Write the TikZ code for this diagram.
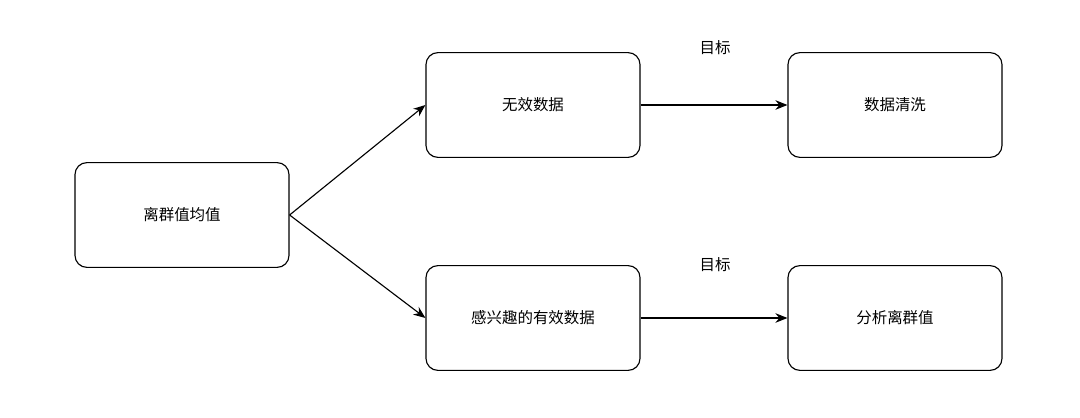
\documentclass[tikz,border=0pt]{standalone}
\usepackage{fontspec}
\setmainfont{Noto Sans CJK SC}
\usetikzlibrary{positioning,arrows.meta}
\tikzset{
    box/.style={rectangle, rounded corners=3mm, draw=black, thick, fill=white,
                minimum width=5.35cm, minimum height=2.62cm, font=\fontsize{11}{13}\selectfont},
    flow/.style={-{Stealth[length=3mm,width=2.4mm]}, thick},
    tag/.style={font=\fontsize{11}{13}\selectfont}
}
\begin{document}
\begin{tikzpicture}[x=0.025cm, y=-0.025cm]
  \useasboundingbox (0,0) rectangle (1080,418);
  % Boxes
  \node[box] (mean) at (182,215) {离群值均值};
  \node[box] (invalid) at (533,105) {无效数据};
  \node[box] (clean) at (895,105) {数据清洗};
  \node[box] (useful) at (533,318) {感兴趣的有效数据};
  \node[box] (analyse) at (895,318) {分析离群值};

  % Arrows
  \draw[flow] (mean.east) -- (invalid.west);
  \draw[flow] (mean.east) -- (useful.west);
  \draw[flow] (invalid) -- (clean);
  \draw[flow] (useful) -- (analyse);

  % Labels
  \node[tag] (goalA) at (715,48) {目标};
  \node[tag] (goalB) at (715,265) {目标};
\end{tikzpicture}
\end{document}
